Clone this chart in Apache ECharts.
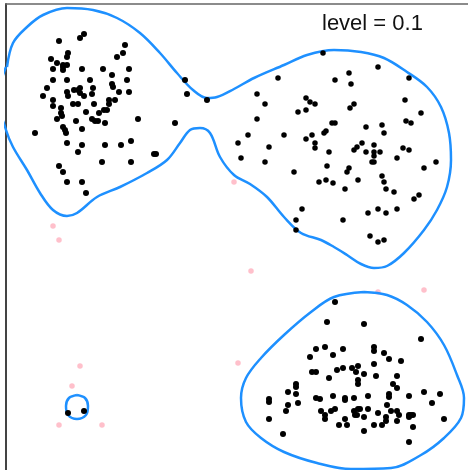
<!DOCTYPE html>
<html>
<head>
<meta charset="utf-8">
<style>html,body{margin:0;padding:0;background:#fff;}#chart{width:468px;height:470px;}</style>
<script src="https://cdn.jsdelivr.net/npm/echarts@6/dist/echarts.min.js"></script>
</head>
<body>
<div id="chart"></div>
<script>
// Data (units = plot coordinates)
var clusterTopLeft = [[84,34],[80,38],[59,41],[125,45],[68,53],[123,53],[67,57],[51,59],[117,57],[57,63],[63,65],[67,65],[63,67],[53,69],[63,70],[82,69],[103,69],[129,69],[112,75],[53,80],[67,80],[90,80],[127,80],[112,84],[113,87],[47,88],[80,88],[93,88],[78,90],[74,90],[67,92],[119,92],[129,92],[80,93],[92,94],[43,96],[68,96],[84,96],[53,100],[109,100],[115,100],[73,104],[78,104],[94,104],[109,104],[53,106],[61,108],[107,110],[104,110],[86,112],[99,113],[61,113],[62,116],[57,119],[92,119],[95,121],[98,121],[76,121],[105,123],[138,119],[175,123],[63,127],[82,129],[65,130],[66,133],[35,133],[67,143],[82,145],[105,145],[121,145],[131,141],[78,152],[154,154],[156,154],[102,162],[131,162],[59,166],[63,172],[67,182],[82,182],[86,193],[185,80],[187,94],[207,100]];
var clusterTopRight = [[323,53],[278,78],[335,80],[349,73],[351,84],[378,67],[409,78],[257,94],[265,104],[306,98],[310,102],[315,104],[298,112],[306,110],[350,108],[354,104],[405,100],[421,113],[257,119],[406,121],[411,123],[332,123],[335,123],[366,127],[382,125],[384,133],[248,135],[284,135],[324,133],[326,131],[306,139],[312,135],[315,143],[315,148],[238,143],[269,147],[354,150],[357,147],[362,143],[366,152],[374,145],[374,152],[380,152],[374,156],[372,162],[374,162],[403,148],[409,150],[329,152],[241,158],[265,162],[397,158],[436,162],[327,166],[424,168],[349,168],[347,172],[294,172],[319,182],[326,180],[333,183],[358,180],[382,176],[384,182],[386,189],[394,192],[345,189],[419,195],[414,199],[302,209],[296,220],[343,220],[368,213],[378,209],[386,213],[397,209],[296,230],[370,236],[378,242],[384,240]];
var clusterBottomRight = [[335,302],[327,322],[364,324],[421,339],[325,347],[316,349],[343,349],[374,347],[374,351],[384,353],[333,355],[310,357],[389,359],[401,361],[374,364],[312,372],[316,372],[337,370],[343,368],[352,368],[356,372],[358,366],[364,374],[376,376],[397,376],[329,378],[358,380],[358,384],[296,384],[296,387],[393,384],[397,388],[288,392],[296,394],[389,394],[389,397],[424,392],[440,394],[269,399],[269,402],[316,398],[320,399],[333,396],[345,398],[345,400],[354,398],[368,396],[409,396],[288,405],[298,403],[387,405],[432,403],[286,411],[321,411],[331,411],[335,409],[354,411],[358,409],[360,409],[368,409],[391,411],[397,411],[399,415],[378,413],[355,415],[357,415],[325,415],[325,419],[364,417],[386,417],[386,421],[409,415],[411,415],[413,415],[409,417],[269,419],[345,419],[397,421],[444,419],[339,425],[347,425],[374,425],[382,425],[413,427],[364,431],[283,434],[409,442]];
var clusterSmall = [[68,413],[84,411]];
var outliers = [[53,226],[59,240],[80,366],[72,386],[59,425],[102,425],[234,182],[251,271],[378,292],[424,290],[238,363]];
var contourUpper = [[7,67],[13,43],[27,27],[43,15],[67,8],[93,10],[117,18],[140,33],[160,53],[177,73],[193,90],[207,98],[217,97],[234,89],[254,78],[284,65],[307,55],[334,50],[361,52],[384,58],[407,72],[427,87],[441,107],[449,133],[451,160],[447,187],[437,210],[424,230],[404,253],[387,266],[374,268],[361,264],[347,255],[334,247],[321,240],[301,233],[284,217],[267,197],[250,184],[234,175],[220,157],[210,133],[200,128],[190,130],[180,143],[167,160],[147,173],[120,187],[97,197],[77,213],[67,216],[53,210],[40,193],[27,170],[13,147],[6,130],[-2,98],[6,67]];
var contourLower = [[364,292],[334,297],[311,312],[284,335],[261,358],[246,378],[241,398],[246,422],[261,438],[284,452],[317,463],[351,469],[391,468],[421,455],[444,438],[461,418],[464,398],[457,375],[444,345],[427,322],[407,305],[387,295],[364,292]];
var contourSmall = [[77,395],[85,398],[88,406],[86,415],[77,419],[68,415],[66,406],[69,398],[77,395]];
var levelLabel = 'level = 0.1';

var chart = echarts.init(document.getElementById('chart'), null, {renderer: 'canvas'});
var blue = '#1E90FF';
function contourSeries(d) {
  return {type: 'line', data: d, smooth: 0.35, symbol: 'none', clip: true, silent: true,
    lineStyle: {color: blue, width: 2.5}, z: 2};
}
function dots(d, color, size, z) {
  return {type: 'scatter', data: d, symbolSize: size, itemStyle: {color: color, opacity: 1}, z: z};
}
chart.setOption({
  animation: false,
  backgroundColor: '#fff',
  grid: {left: 6, top: 4, right: 0, bottom: 0},
  title: {text: levelLabel, left: 317, top: 8,
    textStyle: {fontSize: 22, fontWeight: 'normal', color: '#111', fontFamily: 'Liberation Sans, Arial, sans-serif'}},
  xAxis: {type: 'value', min: 6, max: 468, position: 'top',
    axisLine: {show: true, onZero: false, lineStyle: {color: '#666', width: 1.5}},
    axisTick: {show: false}, axisLabel: {show: false}, splitLine: {show: false}},
  yAxis: {type: 'value', min: 4, max: 470, inverse: true,
    axisLine: {show: true, onZero: false, lineStyle: {color: '#444', width: 2}},
    axisTick: {show: false}, axisLabel: {show: false}, splitLine: {show: false}},
  series: [
    dots(outliers, '#FFC0CB', 5.5, 1),
    contourSeries(contourUpper),
    contourSeries(contourLower),
    contourSeries(contourSmall),
    dots(clusterTopLeft, '#000', 6, 3),
    dots(clusterTopRight, '#000', 5.5, 3),
    dots(clusterBottomRight, '#000', 6, 3),
    dots(clusterSmall, '#000', 6, 3)
  ]
});
</script>
</body>
</html>
